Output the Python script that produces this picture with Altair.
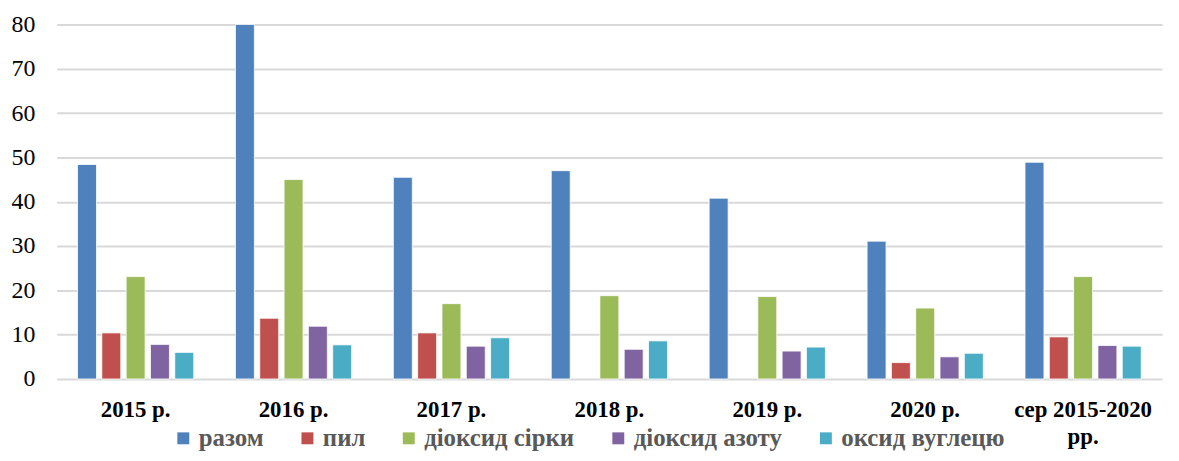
import altair as alt
import pandas as pd

categories = ["2015 р.", "2016 р.", "2017 р.", "2018 р.", "2019 р.", "2020 р.", "сер 2015-2020\nрр."]
series = ["разом", "пил", "діоксид сірки", "діоксид азоту", "оксид вуглецю"]
razom = [48.4, 80.0, 45.5, 47.0, 40.8, 31.1, 48.9]
pyl = [10.4, 13.7, 10.4, None, None, 3.7, 9.5]
so2 = [23.1, 45.0, 17.0, 18.8, 18.6, 16.0, 23.1]
no2 = [7.8, 11.9, 7.4, 6.7, 6.3, 5.0, 7.55]
co = [6.0, 7.7, 9.3, 8.6, 7.2, 5.8, 7.4]
colors = ["#4F81BD", "#C0504D", "#9BBB59", "#8064A2", "#4BACC6"]

rows = []
for s, vals in zip(series, [razom, pyl, so2, no2, co]):
    for c, v in zip(categories, vals):
        if v is not None:
            rows.append({"cat": c, "series": s, "value": v})
df = pd.DataFrame(rows)

font = "Liberation Serif"

chart = alt.Chart(df).mark_bar(stroke="white", strokeWidth=0.8).encode(
    x=alt.X("cat:N", sort=categories, title=None,
            scale=alt.Scale(paddingInner=0.264, paddingOuter=0.132),
            axis=alt.Axis(labelAngle=0, labelFont=font, labelFontSize=23,
                          labelFontWeight="bold", labelColor="black",
                          labelExpr="split(datum.label, '\\n')",
                          labelLineHeight=27, labelPadding=20, tickSize=0,
                          ticks=False, domain=False, grid=False)),
    xOffset=alt.XOffset("series:N", sort=series,
                        scale=alt.Scale(paddingInner=0.22, paddingOuter=0)),
    y=alt.Y("value:Q", title=None,
            scale=alt.Scale(domain=[0, 80], nice=False),
            axis=alt.Axis(values=list(range(0, 81, 10)), labelFont=font,
                          labelFontSize=24, labelColor="black", labelPadding=22,
                          tickSize=0, ticks=False, domain=False,
                          gridColor="#d9d9d9", gridWidth=2)),
    color=alt.Color("series:N", sort=series,
                    scale=alt.Scale(domain=series, range=colors),
                    legend=alt.Legend(title=None, orient="none", direction="horizontal",
                                      legendX=115, legendY=404,
                                      symbolType="square", symbolSize=144,
                                      symbolStrokeWidth=0, labelFont=font,
                                      labelFontSize=25, labelFontWeight="bold",
                                      labelColor="#595959", labelOffset=3,
                                      columnPadding=31, labelLimit=400)),
).properties(
    width=1113, height=357,
    autosize=alt.AutoSizeParams(type="none"),
    padding={"left": 49, "top": 15, "right": 9, "bottom": 73},
).configure_view(stroke=None)

chart.save("out.html", embed_options={"renderer": "svg", "actions": False})
